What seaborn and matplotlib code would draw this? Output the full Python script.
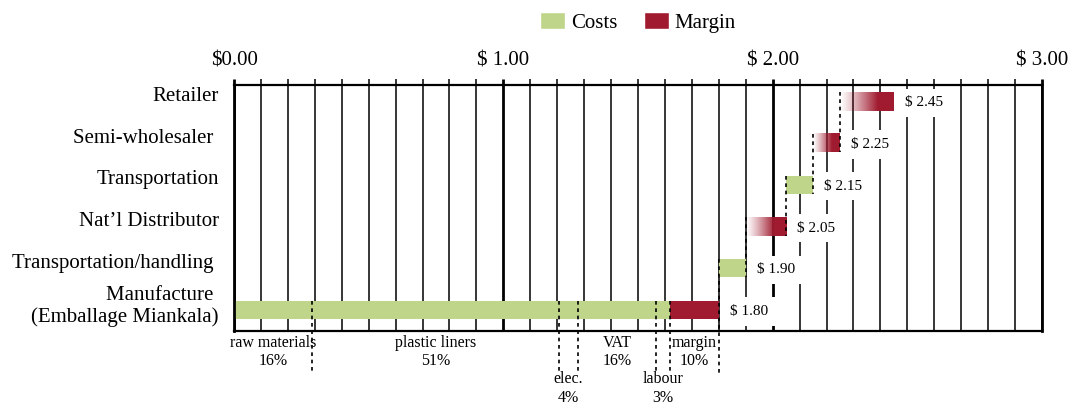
import numpy as np
import pandas as pd
import matplotlib
matplotlib.use("Agg")
import matplotlib.pyplot as plt
import matplotlib.transforms as mtransforms
from matplotlib.colors import to_rgb
import seaborn as sns

# ---------------- data ----------------
stages = ["Retailer", "Semi-wholesaler ", "Transportation", "Nat\u2019l Distributor",
          "Transportation/handling ", "Manufacture \n(Emballage Miankala)"]
price_points = [2.45, 2.25, 2.15, 2.05, 1.90, 1.80]

seg_stage = [stages[0], stages[1], stages[2], stages[3], stages[4], stages[5], stages[5]]
seg_kind = ["Margin", "Margin", "Costs", "Margin", "Costs", "Costs", "Margin"]
seg_start = [2.25, 2.15, 2.05, 1.90, 1.80, 0.00, 1.62]
seg_end = [2.45, 2.25, 2.15, 2.05, 1.90, 1.62, 1.80]
seg_fade = [True, True, False, True, False, False, False]

comp_names = ["raw materials", "plastic liners", "elec.", "VAT", "labour", "margin"]
comp_pct = [16, 51, 4, 16, 3, 10]

x_major = [0, 1, 2, 3]
x_major_labels = ["$0.00", "$ 1.00", "$ 2.00", "$ 3.00"]

GREEN = "#BED58A"
RED = "#A01B2F"
hue_order = ["Costs", "Margin"]

# ---------------- style ----------------
sns.set_theme(style="white")
plt.rcParams["font.family"] = ["Liberation Serif", "DejaVu Serif"]
plt.rcParams["text.color"] = "black"
plt.rcParams["xtick.color"] = "black"
plt.rcParams["ytick.color"] = "black"
plt.rcParams["axes.labelcolor"] = "black"

fig = plt.figure(figsize=(10.71, 4.07), dpi=100)
W, H = 1071, 407
ax_top, ax_bot = 85, 331
ax = fig.add_axes([234 / W, (H - ax_bot) / H, (1042 - 234) / W, (ax_bot - ax_top) / H])

df = pd.DataFrame({"stage": seg_stage, "kind": seg_kind, "end": seg_end})
bar_h = 0.44
sns.barplot(data=df, y="stage", x="end", hue="kind", order=stages, hue_order=hue_order,
            palette={"Costs": GREEN, "Margin": RED}, dodge=False, orient="h",
            errorbar=None, width=bar_h, saturation=1, ax=ax, zorder=2)

# turn end-value bars into floating (waterfall) segments
lookup = {(s, k): (st, en, fd) for s, k, st, en, fd in
          zip(seg_stage, seg_kind, seg_start, seg_end, seg_fade)}
red_rgb = to_rgb(RED)
n = 256
t = np.linspace(0, 1, n)
grad = np.zeros((1, n, 4))
grad[..., :3] = red_rgb
grad[0, :, 3] = np.clip(t / 0.7, 0, 1) ** 1.2

for cont in ax.containers:
    for p in cont.patches:
        if not np.isfinite(p.get_width()):
            continue
        kind = "Costs" if np.allclose(p.get_facecolor()[:3], to_rgb(GREEN), atol=0.02) else "Margin"
        pos = int(round(p.get_y() + p.get_height() / 2))
        st, en, fd = lookup[(stages[pos], kind)]
        p.set_x(st)
        p.set_width(en - st)
        p.set_edgecolor("none")
        if fd:
            x0, y0, w, h = p.get_x(), p.get_y(), p.get_width(), p.get_height()
            ax.imshow(grad, extent=(x0, x0 + w, y0 + h, y0), aspect="auto",
                      interpolation="bilinear", zorder=2)
            p.set_facecolor("none")

# value labels
for i, v in enumerate(price_points):
    ax.annotate(f"$ {v:.2f}", xy=(v, i), xytext=(8, -1), textcoords="offset points",
                va="center", ha="left", fontsize=11,
                bbox=dict(boxstyle="square,pad=0.5", fc="white", ec="none"), zorder=4)

# connectors
y_annot_bottom = 6.50
dash = (0, (2.2, 2.2))
for i in range(len(stages) - 1):
    v = price_points[i + 1]
    y_low = (i + 1) + bar_h / 2 if i + 1 < len(stages) - 1 else y_annot_bottom
    ax.plot([v, v], [i - bar_h / 2, y_low], color="black", lw=1.2, ls=dash,
            zorder=3, clip_on=False)

# manufacture breakdown
bounds = np.cumsum(comp_pct) / 100.0 * price_points[-1]
prev = 0.0
for name, pct, b in zip(comp_names, comp_pct, bounds):
    if b < price_points[-1] - 1e-9:
        ax.plot([b, b], [len(stages) - 1 - bar_h / 2, y_annot_bottom], color="black",
                lw=1.2, ls=dash, zorder=3, clip_on=False)
    ylab = 6.88 if pct < 5 else 6.0
    ax.text((prev + b) / 2, ylab, f"{name}\n{pct}%", ha="center", va="center",
            fontsize=11.5, linespacing=1.18, clip_on=False)
    prev = b

# axes
ax.set_xlim(0, 3)
ax.set_ylim(5.503, -0.396)
ax.set_xlabel("")
ax.set_ylabel("")
ax.xaxis.tick_top()
ax.set_xticks(x_major)
ax.set_xticklabels(x_major_labels)
ax.set_xticks(np.arange(0, 3.0001, 0.1), minor=True)
ax.tick_params(axis="x", which="major", top=True, bottom=False, length=4.5, width=2,
               pad=6, labelsize=15, direction="out")
ax.tick_params(axis="x", which="minor", top=True, bottom=False, length=4.5, width=1.1,
               direction="out")
ax.set_axisbelow(True)
ax.grid(axis="x", which="major", color="black", lw=2)
ax.grid(axis="x", which="minor", color="black", lw=1.1)
ax.grid(axis="y", visible=False)

ax.tick_params(axis="y", left=False, length=0, pad=11, labelsize=15)
off = mtransforms.ScaledTranslation(0, 5.5 / 72, fig.dpi_scale_trans)
for lab in ax.get_yticklabels():
    lab.set_transform(lab.get_transform() + off)
    lab.set_multialignment("right")

for side in ["top", "bottom"]:
    ax.spines[side].set_color("black")
    ax.spines[side].set_linewidth(1.6)
for side in ["left", "right"]:
    ax.spines[side].set_color("black")
    ax.spines[side].set_linewidth(2)

sns.move_legend(ax, "center", bbox_to_anchor=(0.5, 1.255), ncol=2, frameon=False,
                title=None, fontsize=15, handlelength=1.2, handleheight=0.85,
                handletextpad=0.25, columnspacing=1.3)

fig.savefig("out.png", dpi=100)
